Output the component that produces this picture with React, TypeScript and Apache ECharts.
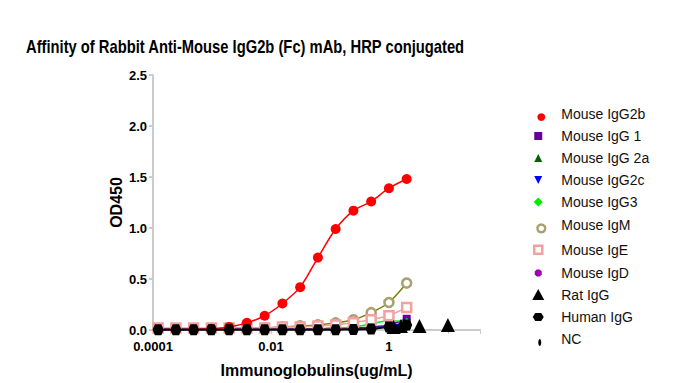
import React, { useEffect, useRef } from "react";
import * as echarts from "echarts";

// Concentrations (ug/mL), 2-fold dilution series, highest first
const conc = [2, 1, 0.5, 0.25, 0.125, 0.0625, 0.03125, 0.015625, 0.0078125, 0.00390625, 0.001953125, 0.0009765625, 0.00048828125, 0.000244140625, 0.0001220703125];
// Rat IgG concentrations (ug/mL)
const ratConc = [10, 3.3, 1.6, 1.2];

const igG2b = [1.48, 1.39, 1.26, 1.17, 0.99, 0.71, 0.42, 0.26, 0.14, 0.07, 0.03, 0.012, 0.005, 0.003, 0.002];
const igG1 = [0.11, 0.05, 0.03, 0.02, 0.02, 0.01, 0.01, 0.01, 0.01, 0.01, 0.01, 0.01, 0.01, 0.01, 0.01];
const igG2a = [0.05, 0.04, 0.02, 0.01, 0.01, 0.01, 0.01, 0.01, 0.01, 0.01, 0.01, 0.01, 0.01, 0.01, 0.01];
const igG2c = [0.07, 0.04, 0.02, 0.01, 0.01, 0.01, 0.01, 0.01, 0.01, 0.01, 0.01, 0.01, 0.01, 0.01, 0.01];
const igG3 = [0.08, 0.09, 0.06, 0.03, 0.02, 0.01, 0.01, 0.01, 0.01, 0.01, 0.01, 0.01, 0.01, 0.01, 0.01];
const igM = [0.46, 0.27, 0.17, 0.1, 0.07, 0.05, 0.04, 0.03, 0.02, 0.02, 0.02, 0.01, 0.01, 0.01, 0.01];
const igE = [0.22, 0.14, 0.1, 0.07, 0.05, 0.04, 0.03, 0.03, 0.02, 0.02, 0.02, 0.02, 0.02, 0.02, 0.02];
const igD = [0.04, 0.03, 0.02, 0.01, 0.01, 0.01, 0.01, 0.01, 0.01, 0.01, 0.01, 0.01, 0.01, 0.01, 0.01];
const ratIgG = [0.05, 0.04, 0.04, 0.03];
const humanIgG = [0.05, 0.03, 0.01, 0.005, 0.003, 0.002, 0.002, 0.002, 0.002, 0.002, 0.002, 0.002, 0.002, 0.002, 0.002];
const nc = [0.02, 0.01, 0.005, 0.003, 0.002, 0.002, 0.002, 0.002, 0.002, 0.002, 0.002, 0.002, 0.002, 0.002, 0.002];

const xTickExponents = [-4, -2, 0];
const xTickLabels = ["0.0001", "0.01", "1"];
const yTicks = [0, 0.5, 1, 1.5, 2, 2.5];

const TITLE = "Affinity of Rabbit Anti-Mouse IgG2b (Fc) mAb, HRP conjugated";
const FONT = 'Arial, "Liberation Sans", sans-serif';

// chart marker shapes
const P_ITRI = "path://M0,0 L10,0 L5,10 Z";
const P_HEX = "path://M0,4 L2.5,0 L9.5,0 L12,4 L9.5,8 L2.5,8 Z";
const P_OCT = "path://M3,0 L7,0 L10,3 L10,7 L7,10 L3,10 L0,7 L0,3 Z";
const P_ELL = "path://M2,0 A2,4 0 1,1 1.999,0 Z";

// legend icons, all in a padded 14x14 box
const BOX = "path://M0,0 M14,14 ";
const L_CIRCLE = BOX + "M11.5,7 A4.5,4.5 0 1,1 11.499,7 Z";
const L_SQUARE = BOX + "M3,3 L11,3 L11,11 L3,11 Z";
const L_TRI = BOX + "M7,3 L11,11 L3,11 Z";
const L_ITRI = BOX + "M3,3 L11,3 L7,11 Z";
const L_DIAM = BOX + "M7,2.5 L11.5,7 L7,11.5 L2.5,7 Z";
const L_OCT = BOX + "M5.5,3.5 L8.5,3.5 L10.5,5.5 L10.5,8.5 L8.5,10.5 L5.5,10.5 L3.5,8.5 L3.5,5.5 Z";
const L_BIGTRI = BOX + "M7,1 L13,12 L1,12 Z";
const L_HEX = BOX + "M1.5,7 L4,3 L10,3 L12.5,7 L10,11 L4,11 Z";
const L_ELL = BOX + "M8.5,7 A1.5,3.5 0 1,1 8.499,7 Z";

function pairs(xs: number[], ys: number[]) {
  return ys.map((y, i) => [xs[i], y]);
}

export default function App() {
  const ref = useRef<HTMLDivElement>(null);
  useEffect(() => {
    if (!ref.current) return;
    const chart = echarts.init(ref.current, undefined, { renderer: "svg" });

    const mk = (name: string, ys: number[], color: string, symbol: string, size: number, opts: any = {}) => ({
      name,
      type: "line",
      data: pairs(opts.xs || conc, ys),
      symbol,
      symbolSize: size,
      smooth: opts.smooth ?? 0.3,
      showSymbol: true,
      lineStyle: { color: opts.lineColor || color, width: opts.lineWidth ?? 1.5, opacity: opts.noLine ? 0 : 1 },
      itemStyle: opts.hollow
        ? { color: "#ffffff", borderColor: color, borderWidth: 2.5 }
        : { color },
      z: opts.z ?? 2,
    });

    const series = [
      mk("Mouse IgG2b", igG2b, "#ff0000", "circle", 10, { z: 3 }),
      mk("Mouse IgG 1", igG1, "#660099", "rect", 8),
      mk("Mouse IgG 2a", igG2a, "#006400", "triangle", 8),
      mk("Mouse IgG2c", igG2c, "#0000ff", P_ITRI, 8),
      mk("Mouse IgG3", igG3, "#00ee00", "diamond", 8),
      mk("Mouse IgM", igM, "#a8a070", "circle", 9, { hollow: true, lineColor: "#808000" }),
      mk("Mouse IgE", igE, "#f4a0a0", "rect", 9, { hollow: true, smooth: false }),
      mk("Mouse IgD", igD, "#a000b0", P_OCT, 7),
      mk("Rat IgG", ratIgG, "#000000", "triangle", 14, { xs: ratConc, noLine: true }),
      mk("Human IgG", humanIgG, "#000000", P_HEX, 11, { z: 4, lineWidth: 2 }),
      mk("NC", nc, "#000000", P_ELL, 5, { noLine: true, z: 4 }),
    ];

    const legendData = [
      { name: "Mouse IgG2b", icon: L_CIRCLE, itemStyle: { color: "#ff0000" } },
      { name: "Mouse IgG 1", icon: L_SQUARE, itemStyle: { color: "#660099" } },
      { name: "Mouse IgG 2a", icon: L_TRI, itemStyle: { color: "#006400" } },
      { name: "Mouse IgG2c", icon: L_ITRI, itemStyle: { color: "#0000ff" } },
      { name: "Mouse IgG3", icon: L_DIAM, itemStyle: { color: "#00ee00" } },
      { name: "Mouse IgM", icon: L_CIRCLE, itemStyle: { color: "#ffffff", borderColor: "#a8a070", borderWidth: 2.5 } },
      { name: "Mouse IgE", icon: L_SQUARE, itemStyle: { color: "#ffffff", borderColor: "#f4a0a0", borderWidth: 2.5 } },
      { name: "Mouse IgD", icon: L_OCT, itemStyle: { color: "#a000b0" } },
      { name: "Rat IgG", icon: L_BIGTRI, itemStyle: { color: "#000000" } },
      { name: "Human IgG", icon: L_HEX, itemStyle: { color: "#000000" } },
      { name: "NC", icon: L_ELL, itemStyle: { color: "#000000" } },
    ];

    chart.setOption({
      animation: false,
      backgroundColor: "#ffffff",
      graphic: [
        {
          type: "text",
          x: 26,
          y: 46,
          scaleX: 0.82,
          style: {
            text: TITLE,
            font: 'bold 18px Arial, "Liberation Sans", sans-serif',
            fill: "#000",
            textAlign: "left",
            textVerticalAlign: "middle",
          },
        },
      ],
      legend: {
        orient: "vertical",
        left: 525,
        top: 102,
        itemWidth: 36,
        itemHeight: 14,
        itemGap: 8,
        symbolKeepAspect: true,
        data: legendData,
        lineStyle: { opacity: 0 },
        textStyle: { fontFamily: FONT, fontSize: 14, color: "#111" },
      },
      grid: { left: 153, right: 195, top: 75, bottom: 53, containLabel: false },
      xAxis: {
        type: "log",
        logBase: 10,
        min: 0.0001,
        max: 35,
        name: "Immunoglobulins(ug/mL)",
        nameLocation: "middle",
        nameGap: 32,
        nameTextStyle: { fontFamily: FONT, fontSize: 16, fontWeight: "bold", color: "#000" },
        axisLine: { show: true, lineStyle: { color: "#cccccc", width: 2 } },
        axisTick: { show: true, length: 4, lineStyle: { color: "#cccccc" } },
        splitLine: { show: false },
        axisLabel: {
          fontFamily: FONT,
          fontSize: 13,
          fontWeight: "bold",
          color: "#000",
          margin: 10,
          formatter: (v: number) => {
            const l = Math.log10(v);
            const e = Math.round(l);
            if (Math.abs(l - e) > 1e-6) return "";
            const idx = xTickExponents.indexOf(e);
            return idx >= 0 ? xTickLabels[idx] : "";
          },
        },
      },
      yAxis: {
        type: "value",
        min: yTicks[0],
        max: yTicks[yTicks.length - 1],
        interval: 0.5,
        name: "OD450",
        nameLocation: "middle",
        nameGap: 29,
        nameTextStyle: { fontFamily: FONT, fontSize: 16, fontWeight: "bold", color: "#000" },
        axisLine: { show: true, lineStyle: { color: "#cccccc", width: 2 } },
        axisTick: { show: true, length: 4, lineStyle: { color: "#cccccc", width: 2 } },
        splitLine: { show: false },
        axisLabel: {
          fontFamily: FONT,
          fontSize: 13,
          fontWeight: "bold",
          color: "#000",
          margin: 6,
          formatter: (v: number) => v.toFixed(1),
        },
      },
      series,
    });

    return () => chart.dispose();
  }, []);

  return (
    <div
      ref={ref}
      style={{ position: "absolute", left: 0, top: 0, width: 675, height: 383, background: "#fff" }}
    />
  );
}
